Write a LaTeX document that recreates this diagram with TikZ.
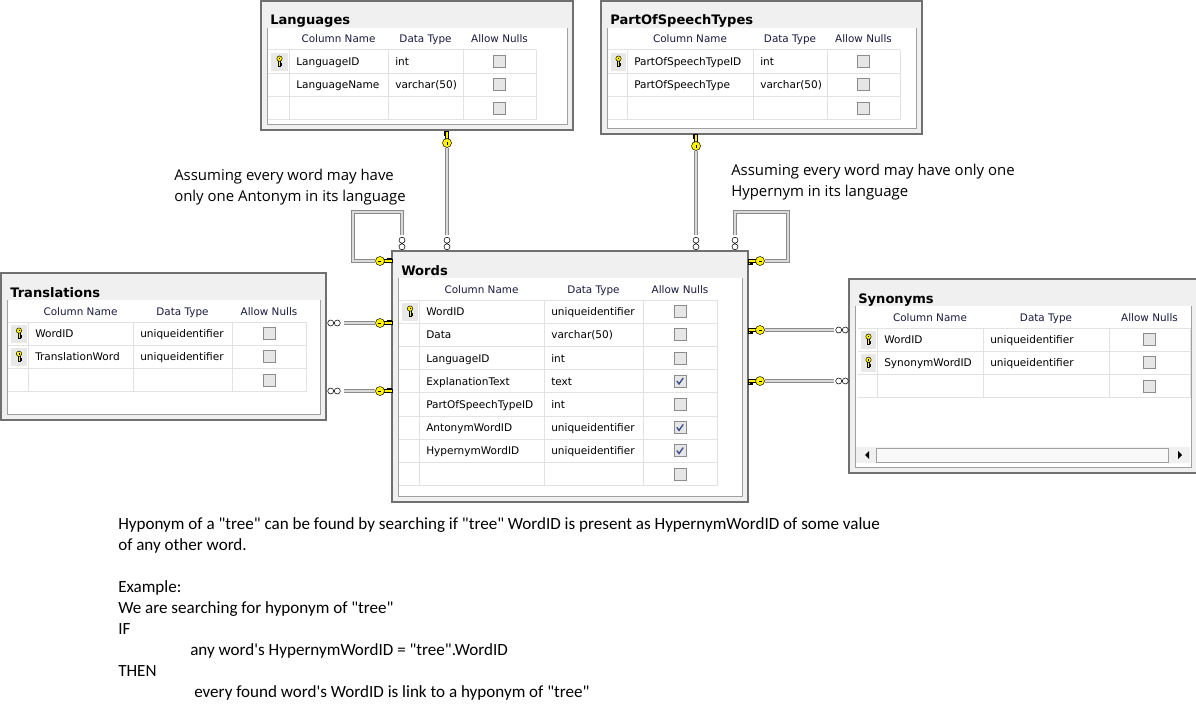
\documentclass[tikz,border=0pt]{standalone}
\usepackage{fontspec}
\usetikzlibrary{fit}
\newfontfamily\tabfont{DejaVu Sans}
\newfontfamily\notefont{Open Sans}
\newfontfamily\memofont{Carlito}
\definecolor{framebg}{HTML}{F0F0F0}
\definecolor{framegray}{HTML}{707070}
\definecolor{panelgray}{HTML}{A0A0A0}
\definecolor{gridgray}{HTML}{E2E2E2}
\definecolor{keycell}{HTML}{E8E8E8}
\definecolor{keyyellow}{HTML}{FFF200}
\definecolor{boxgray}{HTML}{8C8C8C}
\definecolor{boxfill}{HTML}{E6E6E6}
\definecolor{checkblue}{HTML}{3A4D8C}
\definecolor{textnavy}{HTML}{1A1A40}
\definecolor{pipedark}{HTML}{8A8A8A}
\definecolor{pipelight}{HTML}{DADADA}
\tikzset{
  tableframe/.style={draw=framegray, fill=framebg, line width=1.1pt},
  panel/.style={draw=panelgray, line width=0.75pt},
  gridline/.style={draw=gridgray, line width=0.75pt},
  pipe/.style={draw=pipedark, line width=3.6pt, line join=miter,
    postaction={draw=pipelight, line width=1.5pt}},
  tabtitle/.style={font=\tabfont\bfseries\fontsize{9.8}{11}\selectfont,
    anchor=base west, inner sep=0},
  colhead/.style={font=\tabfont\fontsize{7.8}{9}\selectfont, text=textnavy,
    anchor=base, inner sep=0},
  celltext/.style={font=\tabfont\fontsize{7.9}{9}\selectfont, anchor=base west,
    inner sep=0},
  notetext/.style={font=\notefont\fontsize{11.2}{15.75}\selectfont,
    anchor=north west, align=left, inner sep=0},
  memotext/.style={font=\memofont\fontsize{12.8}{15.75}\selectfont,
    anchor=north west, align=left, inner sep=0},
  relkey/.pic={
    \filldraw[fill=keyyellow, draw=black, line width=0.35pt]
      (2.5,-1.3) -- (12,-1.3) -- (12,1.3) -- (2.5,1.3) -- cycle
      (7.5,-1.3) -- (7.5,-3.2) -- (8.8,-3.2) -- (8.8,-1.3) -- cycle
      (10.2,-1.3) -- (10.2,-3.2) -- (11.5,-3.2) -- (11.5,-1.3) -- cycle;
    \filldraw[fill=keyyellow, draw=black, line width=0.35pt] (0,0) circle (4.5);
    \draw[black, line width=0.5pt] (-1.6,0) -- (1.4,0);
  },
  manyend/.pic={
    \draw[black, line width=0.4pt] (-3.3,0) circle (3) (3.3,0) circle (3);
  },
  chkbox/.pic={
    \draw[draw=boxgray, fill=boxfill, line width=0.6pt] (-6,-6) rectangle (6,6);
  },
  chkon/.pic={
    \draw[draw=boxgray, fill=boxfill, line width=0.6pt] (-6,-6) rectangle (6,6);
    \draw[checkblue, line width=1pt] (-3.2,-0.3) -- (-1,2.8) -- (3.2,-3.2);
  }
}

\newcommand{\dbframe}[6]{%
  \draw[tableframe] (#3,#4) rectangle (#5,#6);
  \fill[white] ({#3+6},{#4+27}) rectangle ({#5-6},{#6-6});
  \draw[panel] ({#3+6},{#4+27}) -- ({#3+6},{#6-6}) -- ({#5-6},{#6-6}) -- ({#5-6},{#4+27});
  \node[fit={(#3,#4) (#5,#6)}, inner sep=0] (#1) {};
  \node[tabtitle] (#1-title) at ({#3+9},{#4+24}) {#2};
}

\newcommand{\dbgrid}[8]{%
  \def\tabid{#1}\def\kx{#2}\def\nx{#3}\def\tx{#4}\def\ux{#5}\def\ex{#6}\def\hy{#7}%
  \pgfmathsetmacro\gb{#7+22+#8*23.2}%
  \foreach \k in {0,...,#8}
    \draw[gridline] (#2,{#7+22+\k*23.2}) -- (#6,{#7+22+\k*23.2});
  \foreach \c in {#3,#4,#5,#6}
    \draw[gridline] (\c,{#7+22}) -- (\c,\gb);
  \node[colhead] (#1-hname) at ({(#3+#4)/2},{#7+15}) {Column Name};
  \node[colhead] (#1-htype) at ({(#4+#5)/2},{#7+15}) {Data Type};
  \node[colhead] (#1-hnull) at ({(#5+#6)/2},{#7+15}) {Allow Nulls};
}

\newcommand{\dbrow}[5]{%
  \pgfmathsetmacro\ry{\hy+22+(#1-0.5)*23.2}%
  \ifnum#2=1
    \fill[keycell] ({\kx+3},{\ry-9}) rectangle ({\nx-1},{\ry+9});
    \path ({(\kx+\nx)/2+1},{\ry-3}) pic[rotate=-90, scale=0.6] {relkey};
  \fi
  \node[celltext] (\tabid-#1-name) at ({\nx+7},{\ry+4}) {#3};
  \node[celltext] (\tabid-#1-type) at ({\tx+7},{\ry+4}) {#4};
  \ifnum#5=1
    \path ({(\ux+\ex)/2},\ry) pic {chkon};
  \else
    \path ({(\ux+\ex)/2},\ry) pic {chkbox};
  \fi
}

\begin{document}
\begin{tikzpicture}[x=0.75pt, y=-0.75pt]
  \useasboundingbox (0,0) rectangle (1196,710);
  \fill[white] (0,0) rectangle (1196,710);

  \dbframe{languages}{Languages}{261}{1}{573}{130}
  \dbgrid{lang}{268}{289}{388}{463}{536}{28}{3}
  \dbrow{1}{1}{LanguageID}{int}{0}
  \dbrow{2}{0}{LanguageName}{varchar(50)}{0}
  \dbrow{3}{0}{}{}{0}

  \dbframe{postypes}{PartOfSpeechTypes}{601}{1}{922}{134}
  \dbgrid{pos}{608}{627}{753}{827}{900}{28}{3}
  \dbrow{1}{1}{PartOfSpeechTypeID}{int}{0}
  \dbrow{2}{0}{PartOfSpeechType}{varchar(50)}{0}
  \dbrow{3}{0}{}{}{0}

  \dbframe{words}{Words}{392}{251}{748}{502}
  \dbgrid{word}{399}{419}{544}{643}{717}{278}{8}
  \dbrow{1}{1}{WordID}{uniqueidentifier}{0}
  \dbrow{2}{0}{Data}{varchar(50)}{0}
  \dbrow{3}{0}{LanguageID}{int}{0}
  \dbrow{4}{0}{ExplanationText}{text}{1}
  \dbrow{5}{0}{PartOfSpeechTypeID}{int}{0}
  \dbrow{6}{0}{AntonymWordID}{uniqueidentifier}{1}
  \dbrow{7}{0}{HypernymWordID}{uniqueidentifier}{1}
  \dbrow{8}{0}{}{}{0}

  \dbframe{translations}{Translations}{1}{273}{326}{420}
  \dbgrid{trans}{8}{28}{133}{232}{306}{300}{3}
  \dbrow{1}{1}{WordID}{uniqueidentifier}{0}
  \dbrow{2}{1}{TranslationWord}{uniqueidentifier}{0}
  \dbrow{3}{0}{}{}{0}

  \dbframe{synonyms}{Synonyms}{849}{279}{1197}{473}
  \dbgrid{syn}{858}{877}{983}{1109}{1190}{306}{3}
  \dbrow{1}{1}{WordID}{uniqueidentifier}{0}
  \dbrow{2}{1}{SynonymWordID}{uniqueidentifier}{0}
  \dbrow{3}{0}{}{}{0}
  \fill[framebg] (856,447) rectangle (1190,463);
  \draw[panelgray, fill=white!60!framebg, line width=0.6pt] (876,448) rectangle (1168,462);
  \fill[black] (869,451) -- (869,459) -- (865,455) -- cycle;
  \fill[black] (1178,451) -- (1178,459) -- (1182,455) -- cycle;

  \coordinate (lang-one) at (447,148);
  \coordinate (lang-many) at (447,235);
  \coordinate (pos-one) at (696,151);
  \coordinate (pos-many) at (696,235);
  \coordinate (anto-many) at (402,235);
  \coordinate (anto-one) at (375,261);
  \coordinate (hyper-many) at (735,235);
  \coordinate (hyper-one) at (765,261);
  \coordinate (trw-many) at (344,323);
  \coordinate (trw-one) at (375,323);
  \coordinate (trt-many) at (344,391);
  \coordinate (trt-one) at (375,391);
  \coordinate (syw-one) at (765,330);
  \coordinate (syw-many) at (834,330);
  \coordinate (sys-one) at (765,381);
  \coordinate (sys-many) at (834,381);

  \draw[pipe] (lang-one) -- (lang-many);
  \draw[pipe] (pos-one) -- (pos-many);
  \draw[pipe] (anto-many) -- ++(0,-23) -- ++(-49,0) |- (anto-one);
  \draw[pipe] (hyper-many) -- ++(0,-23) -- ++(53,0) |- (hyper-one);
  \draw[pipe] (trw-many) -- (trw-one);
  \draw[pipe] (trt-many) -- (trt-one);
  \draw[pipe] (syw-one) -- (syw-many);
  \draw[pipe] (sys-one) -- (sys-many);

  \path (447,143) pic[rotate=90] {relkey};
  \path (696,146) pic[rotate=90] {relkey};
  \path (380,261) pic {relkey};
  \path (760,261) pic[rotate=180] {relkey};
  \path (380,323) pic {relkey};
  \path (380,391) pic {relkey};
  \path (760,330) pic[rotate=180] {relkey};
  \path (760,381) pic[rotate=180] {relkey};
  \path (447,243.5) pic[rotate=90] {manyend};
  \path (696,243.5) pic[rotate=90] {manyend};
  \path (402,243.5) pic[rotate=90] {manyend};
  \path (735,243.5) pic[rotate=90] {manyend};
  \path (334,323) pic {manyend};
  \path (334,391) pic {manyend};
  \path (842,330) pic {manyend};
  \path (842,381) pic {manyend};

  \node[notetext] (antonym-note) at (174,169) {Assuming every word may have\\only one Antonym in its language};
  \node[notetext] (hypernym-note) at (731,164) {Assuming every word may have only one\\Hypernym in its language};
  \node[memotext] (hyponym-note) at (118,517) {Hyponym of a "tree" can be found by searching if "tree" WordID is present as HypernymWordID of some value\\
    of any other word.\\[15.75pt]
    Example:\\
    We are searching for hyponym of "tree"\\
    IF\\
    \hspace*{54pt}any word's HypernymWordID = "tree".WordID\\
    THEN\\
    \hspace*{57pt}every found word's WordID is link to a hyponym of "tree"};
\end{tikzpicture}
\end{document}
